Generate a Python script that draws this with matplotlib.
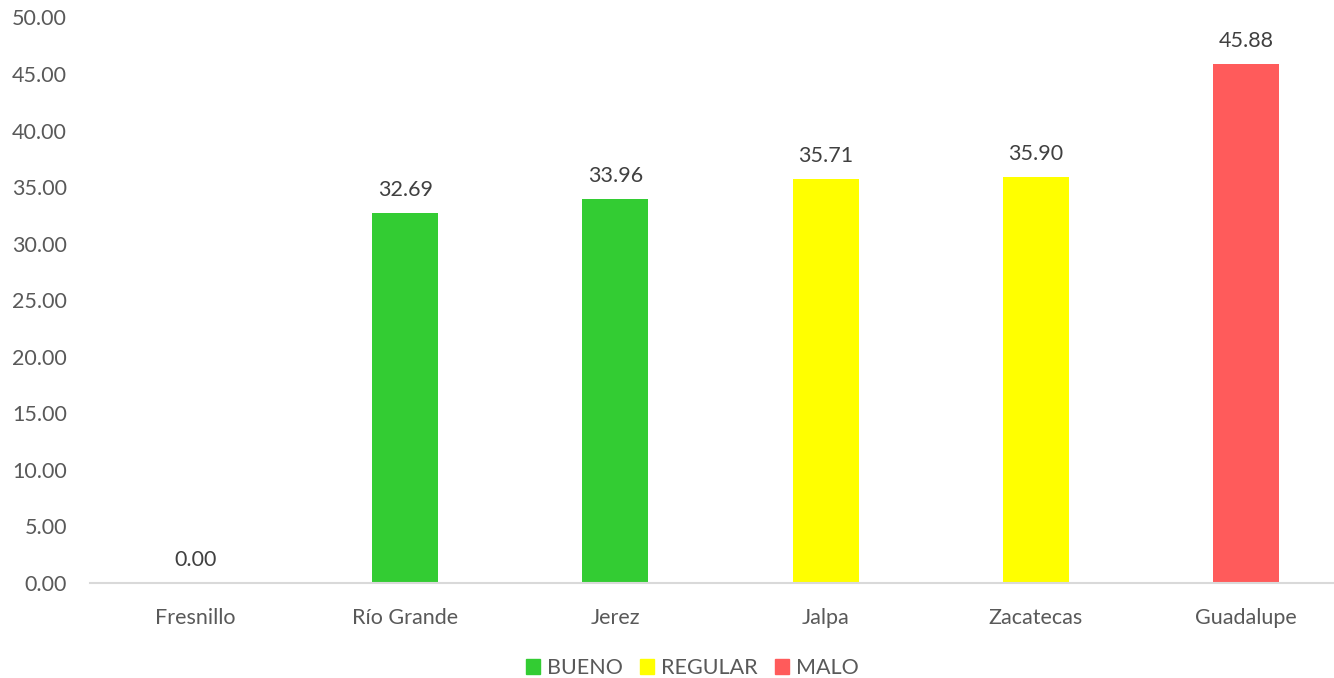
import matplotlib
matplotlib.use("Agg")
import matplotlib.pyplot as plt
from matplotlib.patches import Patch

categories = ["Fresnillo", "Río Grande", "Jerez", "Jalpa", "Zacatecas", "Guadalupe"]
values = [0.00, 32.69, 33.96, 35.71, 35.90, 45.88]
status = ["BUENO", "BUENO", "BUENO", "REGULAR", "REGULAR", "MALO"]
legend_labels = ["BUENO", "REGULAR", "MALO"]
colors = {"BUENO": "#33CC33", "REGULAR": "#FFFF00", "MALO": "#FF5B5B"}
yticks = [0, 5, 10, 15, 20, 25, 30, 35, 40, 45, 50]

TXT = "#595959"
FS = 15.5
plt.rcParams['font.family'] = ['Lato', 'DejaVu Sans']

W, H = 1334, 678
fig = plt.figure(figsize=(W / 100, H / 100), dpi=100)
left, right = 90 / W, 1351 / W
bottom, top = (H - 583) / H, (H - 17.4) / H
ax = fig.add_axes([left, bottom, right - left, top - bottom])

x = list(range(len(categories)))
ax.bar(x, values, width=0.314, color=[colors[s] for s in status], zorder=2)
for xi, v in zip(x, values):
    ax.annotate(f"{v:.2f}", (xi, v), xytext=(0, 9.5), textcoords="offset points",
                ha="center", va="bottom", fontsize=FS, color="#404040")

ax.set_xlim(-0.5, len(categories) - 0.5)
ax.set_ylim(0, 50)
ax.set_yticks(yticks)
ax.set_yticklabels([f"{t:.2f}" for t in yticks])
ax.set_xticks(x)
ax.set_xticklabels(categories)
ax.tick_params(axis="both", length=0, labelsize=FS, labelcolor=TXT)
ax.tick_params(axis="x", pad=18)
ax.tick_params(axis="y", pad=16.5)
for s in ["top", "right", "left"]:
    ax.spines[s].set_visible(False)
ax.spines["bottom"].set_color("#D9D9D9")
ax.spines["bottom"].set_linewidth(1.5)

handles = [Patch(color=colors[l], label=l) for l in legend_labels]
fig.legend(handles=handles, loc="center", bbox_to_anchor=(692 / W, 1 - 668 / H),
           ncol=3, frameon=False, fontsize=FS, labelcolor=TXT,
           handlelength=0.68, handleheight=0.68, handletextpad=0.3, columnspacing=0.8)

fig.savefig("out.png", dpi=100)
